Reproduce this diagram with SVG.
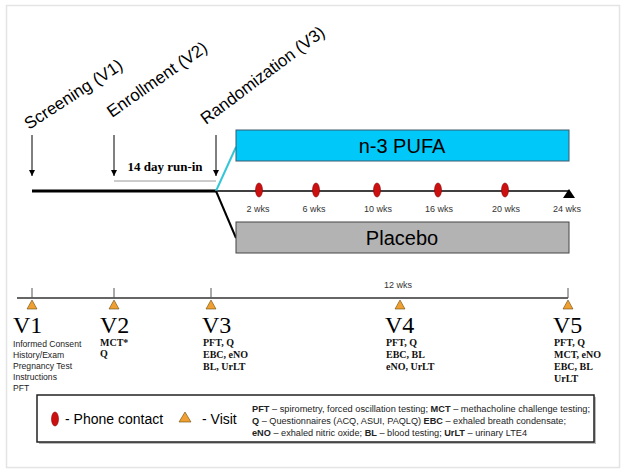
<svg xmlns="http://www.w3.org/2000/svg" width="624" height="473" viewBox="0 0 624 473">
<defs>
<marker id="ah" viewBox="0 0 10 10" refX="10" refY="5" markerWidth="6" markerHeight="6" markerUnits="userSpaceOnUse" orient="auto">
<path d="M0,0 L10,5 L0,10 z" fill="#000"/>
</marker>
<style>
.ev{font-family:"Liberation Sans",Arial,sans-serif;font-size:17px;fill:#000}
.arm{font-family:"Liberation Sans",Arial,sans-serif;font-size:20px;fill:#000;text-anchor:middle}
.wk{font-family:"Liberation Sans",Arial,sans-serif;font-size:9px;fill:#333;text-anchor:middle}
.vn{font-family:"Liberation Serif","Times New Roman",serif;font-size:24px;fill:#000}
.d1{font-family:"Liberation Sans",Arial,sans-serif;font-size:8.6px;fill:#222}
.ds{font-family:"Liberation Serif","Times New Roman",serif;font-size:10px;font-weight:bold;fill:#111}
.lg{font-family:"Liberation Sans",Arial,sans-serif;font-size:14px;fill:#000}
.lt{font-family:"Liberation Sans",Arial,sans-serif;font-size:8.5px;fill:#222}
.b{font-weight:bold}
.ph{fill:#cc1010;stroke:#8a0000;stroke-width:0.6}
.vis{fill:#f0a030;stroke:#6a4a10;stroke-width:0.6}
</style>
</defs>
<rect x="6.5" y="5.5" width="613" height="462" fill="#fff" stroke="#e4e4e4" stroke-width="1.5"/>

<g id="connectors">
<line x1="32" y1="191" x2="216" y2="191" stroke="#000" stroke-width="3"/>
<line x1="216" y1="191" x2="569" y2="191" stroke="#000" stroke-width="1.3"/>
<line x1="216" y1="191" x2="236" y2="147" stroke="#33c6d6" stroke-width="2"/>
<line x1="216" y1="191" x2="236" y2="238" stroke="#000" stroke-width="2"/>
<line x1="32" y1="135" x2="32" y2="176" stroke="#000" stroke-width="1" marker-end="url(#ah)"/>
<line x1="114" y1="135" x2="114" y2="176" stroke="#000" stroke-width="1" marker-end="url(#ah)"/>
<line x1="216" y1="135" x2="216" y2="176" stroke="#000" stroke-width="1" marker-end="url(#ah)"/>
<line x1="114" y1="181" x2="216" y2="181" stroke="#999" stroke-width="1"/>
<line x1="17" y1="298" x2="568" y2="298" stroke="#333" stroke-width="1.5"/>
<line x1="32" y1="288" x2="32" y2="298" stroke="#555" stroke-width="1"/>
<line x1="114" y1="288" x2="114" y2="298" stroke="#555" stroke-width="1"/>
<line x1="211" y1="288" x2="211" y2="298" stroke="#555" stroke-width="1"/>
<line x1="568" y1="288" x2="568" y2="298" stroke="#555" stroke-width="1"/>
</g>

<g id="event-screening"><text class="ev" transform="translate(29,130) rotate(-33)">Screening (V1)</text></g>
<g id="event-enrollment"><text class="ev" transform="translate(112,118) rotate(-35)">Enrollment (V2)</text></g>
<g id="event-randomization"><text class="ev" transform="translate(206,125) rotate(-37)">Randomization (V3)</text></g>
<g id="runin"><text x="165" y="171" text-anchor="middle" font-family="Liberation Serif,Times New Roman,serif" font-size="13" font-weight="bold">14 day run-in</text></g>

<g id="arm-pufa">
<rect x="236" y="130" width="333" height="31" fill="#00c8f8" stroke="#3a5a70" stroke-width="1"/>
<text class="arm" x="402" y="153">n-3 PUFA</text>
</g>
<g id="arm-placebo">
<rect x="236" y="222" width="333" height="31" fill="#b3b3b3" stroke="#444" stroke-width="1"/>
<text class="arm" x="402" y="245">Placebo</text>
</g>

<g id="phone-contacts">
<ellipse class="ph" cx="259" cy="190" rx="3.5" ry="7"/>
<ellipse class="ph" cx="316" cy="190" rx="3.5" ry="7"/>
<ellipse class="ph" cx="377" cy="190" rx="3.5" ry="7"/>
<ellipse class="ph" cx="438" cy="190" rx="3.5" ry="7"/>
<ellipse class="ph" cx="505" cy="190" rx="3.5" ry="7"/>
<path d="M569,189 L575,198 L563,198 z" fill="#000"/>
<text class="wk" x="258" y="212">2 wks</text>
<text class="wk" x="314" y="212">6 wks</text>
<text class="wk" x="378" y="212">10 wks</text>
<text class="wk" x="439" y="212">16 wks</text>
<text class="wk" x="506" y="212">20 wks</text>
<text class="wk" x="567" y="212">24 wks</text>
</g>

<g id="visit-v1">
<path class="vis" d="M32,300 L37,309 L27,309 z"/>
<text class="vn" x="13" y="333">V1</text>
<text class="d1" x="13" y="347">Informed Consent</text>
<text class="d1" x="13" y="358">History/Exam</text>
<text class="d1" x="13" y="369">Pregnancy Test</text>
<text class="d1" x="13" y="380">Instructions</text>
<text class="d1" x="13" y="391">PFT</text>
</g>
<g id="visit-v2">
<path class="vis" d="M114,300 L119,309 L109,309 z"/>
<text class="vn" x="100" y="333">V2</text>
<text class="ds" x="100" y="346" font-weight="normal">MCT*</text>
<text class="ds" x="100" y="357" font-weight="normal">Q</text>
</g>
<g id="visit-v3">
<path class="vis" d="M211,300 L216,309 L206,309 z"/>
<text class="vn" x="202" y="333">V3</text>
<text class="ds" x="203" y="346">PFT, Q</text>
<text class="ds" x="203" y="358">EBC, eNO</text>
<text class="ds" x="203" y="370">BL, UrLT</text>
</g>
<g id="visit-v4">
<text class="wk" x="398" y="288">12 wks</text>
<path class="vis" d="M400,300 L405,309 L395,309 z"/>
<text class="vn" x="385" y="333">V4</text>
<text class="ds" x="386" y="346">PFT, Q</text>
<text class="ds" x="386" y="358">EBC, BL</text>
<text class="ds" x="386" y="370">eNO, UrLT</text>
</g>
<g id="visit-v5">
<path class="vis" d="M568,300 L573,309 L563,309 z"/>
<text class="vn" x="553" y="333">V5</text>
<text class="ds" x="554" y="346">PFT, Q</text>
<text class="ds" x="554" y="358">MCT, eNO</text>
<text class="ds" x="554" y="370">EBC, BL</text>
<text class="ds" x="554" y="382">UrLT</text>
</g>

<g id="legend">
<rect x="39" y="397" width="557" height="47" fill="#bbb"/>
<rect x="37" y="395" width="557" height="47" fill="#fff" stroke="#222" stroke-width="1.5"/>
<ellipse class="ph" cx="55" cy="419" rx="3.5" ry="7"/>
<text class="lg" x="65" y="424">- Phone contact</text>
<path class="vis" d="M185,412 L191,422 L179,422 z"/>
<text class="lg" x="202" y="424">- Visit</text>
<text class="lt" x="252" y="412" textLength="338" lengthAdjust="spacingAndGlyphs"><tspan class="b">PFT</tspan> – spirometry, forced oscillation testing;  <tspan class="b">MCT</tspan> – methacholine challenge testing;</text>
<text class="lt" x="252" y="424" textLength="314" lengthAdjust="spacingAndGlyphs"><tspan class="b">Q</tspan> – Questionnaires (ACQ, ASUI, PAQLQ)   <tspan class="b">EBC</tspan> – exhaled breath condensate;</text>
<text class="lt" x="252" y="436" textLength="275" lengthAdjust="spacingAndGlyphs"><tspan class="b">eNO</tspan> – exhaled nitric oxide;  <tspan class="b">BL</tspan> – blood testing;  <tspan class="b">UrLT</tspan> – urinary LTE4</text>
</g>
</svg>
